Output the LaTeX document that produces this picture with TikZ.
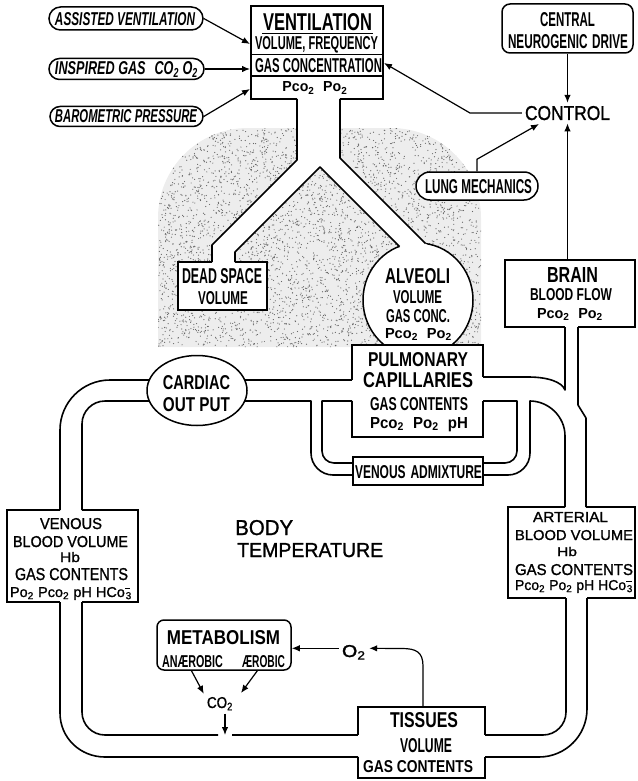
\documentclass[tikz,border=0pt]{standalone}
\usepackage{fontspec}
\usepackage{graphicx}
\setmainfont{Liberation Sans}
\newfontfamily\letfont{Liberation Sans}
\newfontfamily\medfont[FakeBold=1.2]{Liberation Sans}
\usetikzlibrary{arrows.meta,shapes.geometric,calc}
% lettering squeezed to a given width and cap height
\newcommand\fitb[3]{\resizebox{#1pt}{#2pt}{\letfont\bfseries #3}}
\newcommand\fiti[3]{\resizebox{#1pt}{#2pt}{\letfont\bfseries\itshape #3}}
\newcommand\fitr[3]{\resizebox{#1pt}{#2pt}{\medfont #3}}
\newcommand\ssub[1]{\textsubscript{#1}}
% subscript with a bar (charge sign) set above it
\newcommand\barsub[1]{\textsuperscript{\rlap{\rule[0.3em]{0.55em}{0.09em}}}\textsubscript{#1}}
\begin{document}
\begin{tikzpicture}[x=1pt,y=-1pt,
  box/.style={draw, fill=white, line width=1.5pt, inner sep=0pt, rectangle},
  rbox/.style={box, rounded corners=#1},
  wall/.style={line width=1.6pt, line join=round},
  arr/.style={line width=1.2pt, -{Latex[length=8pt,width=6.5pt]}},
  txt/.style={inner sep=0pt, anchor=base}]
\useasboundingbox (0,0) rectangle (637,781);

% stippled lung field
\begin{scope}
  \clip (158,347) -- (158,218) .. controls (158,168) and (198,128) .. (248,128)
        -- (391,128) .. controls (441,128) and (481,168) .. (481,218) -- (481,347) -- cycle;
  \fill[black!7] (150,120) rectangle (490,350);
  \pgfmathsetseed{11}
  \foreach \k in {1,...,4500}{
    \pgfmathsetmacro\sx{158+323*rnd}
    \pgfmathsetmacro\sy{128+219*rnd}
    \fill[black!60] (\sx,\sy) circle[radius=0.6];
  }
\end{scope}

% airway interior
\fill[white] (297,99) -- (297,160) -- (212,245) -- (212,264) -- (235,264) -- (235,252)
  -- (320,167) -- (406,253) -- (432,250) -- (340,158) -- (340,99) -- cycle;

% boxes
\node[box, minimum width=132, minimum height=93] (vent) at (317,52.5) {};
\node[rbox=11.5, minimum width=154, minimum height=23] (assist) at (126,18.5) {};
\node[rbox=10.5, minimum width=155, minimum height=21] (inspired) at (126.5,69) {};
\node[rbox=10, minimum width=153, minimum height=20] (baro) at (126.5,116.5) {};
\node[rbox=8, minimum width=131, minimum height=49] (central) at (567.5,28.5) {};
\node[rbox=14, minimum width=122, minimum height=28] (lung) at (477,186) {};
\node[box, minimum width=89, minimum height=48] (dead) at (222.5,286) {};
\node[box, ellipse, minimum width=110, minimum height=114] (alv) at (418,300) {};
\node[box, minimum width=131, minimum height=92] (pulm) at (417.5,391) {};
\node[box, ellipse, minimum width=100, minimum height=70] (cardiac) at (197,390.5) {};
\node[box, minimum width=130, minimum height=28] (admix) at (418,471) {};
\node[box, minimum width=130, minimum height=67] (brain) at (570,293.5) {};
\node[box, minimum width=127, minimum height=91] (arterial) at (571.5,552.5) {};
\node[box, minimum width=131, minimum height=92] (venous) at (72.5,556) {};
\node[rbox=7, minimum width=134, minimum height=50] (metab) at (224,645) {};
\node[box, minimum width=127, minimum height=71] (tiss) at (421.5,742.5) {};

% row rules in the ventilation box
\draw[line width=1.3pt] (251,54.5) -- (383,54.5);
\draw[line width=1.3pt] (251,76) -- (383,76);
\draw[line width=1.3pt] (262,33.5) -- (373,33.5);

% openings where the tubes enter the boxes
\fill[white] (297,97.5) rectangle (340,100.5);
\fill[white] (212,260.5) rectangle (235,263.5);
\fill[white] (385,232) -- (406,253) -- (432,250) -- (411,229) -- cycle;
\fill[white] (350.5,380) rectangle (353.5,401);
\fill[white] (481.5,377) rectangle (484.5,401);
\fill[white] (60,508.5) rectangle (82,511.5);
\fill[white] (60,600.5) rectangle (82,603.5);
\fill[white] (356.5,735) rectangle (359.5,757);
\fill[white] (483.5,735) rectangle (486.5,757);
\fill[white] (565,505.5) rectangle (586,508.5);
\fill[white] (566,596.5) rectangle (587,599.5);
\fill[white] (565,325.5) rectangle (578,328.5);

% airway walls
\draw[wall] (297,99) -- (297,160) -- (212,245) -- (212,262);
\draw[wall] (235,262) -- (235,252) -- (320,167) -- (399.5,246.5);
\draw[wall] (340,99) -- (340,158) -- (425.5,243.5);

% circulation: left side
\draw[wall] (352,380) -- (244.7,380);
\draw[wall] (149.3,380) -- (110,380) .. controls (82.4,380) and (60,402.4) .. (60,430) -- (60,510);
\draw[wall] (244.7,401) -- (311,401) -- (311,453) .. controls (311,465.1) and (320.9,475) .. (333,475) -- (353,475);
\draw[wall] (149.3,401) -- (105,401) .. controls (92.3,401) and (82,411.3) .. (82,424) -- (82,510);
\draw[wall] (352,401) -- (322,401) -- (322,451) .. controls (322,457.6) and (327.4,463) .. (334,463) -- (353,463);
% circulation: right side
\draw[wall] (483,401) -- (517,401) -- (517,451) .. controls (517,457.6) and (511.6,463) .. (505,463) -- (483,463);
\draw[wall] (483,475) -- (508,475) .. controls (520.1,475) and (530,465.1) .. (530,453) -- (530,401)
  .. controls (548,401) and (565,416) .. (565,436) -- (565,507);
\draw[wall] (483,377) -- (528,377) .. controls (548,377) and (562,382) .. (565,390) -- (565,327);
\draw[wall] (578,327) -- (578,405) -- (586,418) -- (586,507);
% circulation: bottom
\draw[wall] (60,602) -- (60,713) .. controls (60,737.8) and (80.2,757) .. (105,757) -- (358,757);
\draw[wall] (82,602) -- (82,712) .. controls (82,724.7) and (92.3,735) .. (105,735) -- (218,735);
\draw[wall] (232,735) -- (358,735);
\draw[wall] (485,735) -- (543,735) .. controls (555.7,735) and (566,724.7) .. (566,712) -- (566,598);
\draw[wall] (485,757) -- (539,757) .. controls (565.5,757) and (587,735.5) .. (587,709) -- (587,598);

% labels
\node[txt] (tAssist) at (125,26) {\fiti{140}{13}{ASSISTED VENTILATION}};
\node[txt] (tInsp) at (126.5,75) {\fiti{143}{13}{INSPIRED GAS\hspace{0.7em}CO\ssub{2} O\ssub{2}}};
\node[txt] (tBaro) at (126,123) {\fiti{142}{13}{BAROMETRIC PRESSURE}};

\node[txt] (tVent) at (317.5,31) {\fitb{109}{17}{VENTILATION}};
\node[txt] (tVolFreq) at (316.5,50) {\fitb{123}{13}{VOLUME, FREQUENCY}};
\node[txt] (tGasConc) at (318.5,73) {\fitb{127}{14}{GAS CONCENTRATION}};
\node[txt] (tVentP) at (315,92) {\fitb{65}{10}{Pco\ssub{2}\hspace{0.6em}Po\ssub{2}}};

\node[txt] (tCentral) at (567.5,27) {\fitb{55}{14}{CENTRAL}};
\node[txt] (tNeuro) at (568,49) {\fitb{120}{14}{NEUROGENIC\hspace{0.4em}DRIVE}};
\node[txt, inner sep=3pt] (control) at (567.5,120) {\fitr{85}{14}{CONTROL}};
\node[txt] (tLung) at (478.5,193) {\fitb{107}{14}{LUNG MECHANICS}};

\node[txt] (tDead) at (222,283) {\fitb{80}{15}{DEAD SPACE}};
\node[txt] (tDeadV) at (223,304) {\fitb{50}{13}{VOLUME}};

\node[txt] (tAlv) at (417.5,283) {\fitb{65}{15}{ALVEOLI}};
\node[txt] (tAlvV) at (417.5,303) {\fitb{49}{13}{VOLUME}};
\node[txt] (tAlvG) at (418,322) {\fitb{64}{13}{GAS CONC.}};
\node[txt] (tAlvP) at (418.5,338) {\fitb{67}{10}{Pco\ssub{2}\hspace{0.6em}Po\ssub{2}}};

\node[txt] (tPulm) at (418,366) {\fitb{100}{14}{PULMONARY}};
\node[txt] (tCap) at (418,387) {\fitb{110}{15}{CAPILLARIES}};
\node[txt] (tPulmG) at (419,410) {\fitb{98}{13}{GAS CONTENTS}};
\node[txt] (tPulmP) at (419,428) {\fitb{98}{11}{Pco\ssub{2}\hspace{0.6em}Po\ssub{2}\hspace{0.6em}pH}};
\node[txt] (tAdmix) at (418.5,478) {\fitb{127}{13}{VENOUS\hspace{0.4em}ADMIXTURE}};

\node[txt] (tCard) at (196.5,389) {\fitb{67}{14}{CARDIAC}};
\node[txt] (tOut) at (196.5,411) {\fitb{67}{14}{OUT PUT}};

\node[txt] (tBrain) at (572.5,282) {\fitb{51}{15}{BRAIN}};
\node[txt] (tFlow) at (571,300) {\fitb{82}{12}{BLOOD FLOW}};
\node[txt] (tBrainP) at (570,318) {\fitb{66}{10}{Pco\ssub{2}\hspace{0.6em}Po\ssub{2}}};

\node[txt] (tVen1) at (71,529) {\fitr{62}{11}{VENOUS}};
\node[txt] (tVen2) at (70.5,547) {\fitr{115}{11}{BLOOD VOLUME}};
\node[txt] (tVen3) at (70,562) {\fitr{20}{10}{Hb}};
\node[txt] (tVen4) at (71.5,580) {\fitr{113}{12}{GAS CONTENTS}};
\node[txt] (tVen5) at (71,597) {\fitr{122}{10}{Po\ssub{2} Pco\ssub{2} pH HCo\barsub{3}}};

\node[txt] (tArt1) at (570.5,522) {\fitr{75}{10}{ARTERIAL}};
\node[txt] (tArt2) at (574,540) {\fitr{118}{10}{BLOOD VOLUME}};
\node[txt] (tArt3) at (567,556) {\fitr{20}{9}{Hb}};
\node[txt] (tArt4) at (574,575) {\fitr{118}{11}{GAS CONTENTS}};
\node[txt] (tArt5) at (574,590) {\fitr{118}{10}{Pco\ssub{2} Po\ssub{2} pH HCo\barsub{3}}};

\node[txt, anchor=base west] (tBody) at (235,535) {\fitr{58}{15}{BODY}};
\node[txt, anchor=base west] (tTemp) at (237,557) {\fitr{146}{14}{TEMPERATURE}};

\node[txt] (tMetab) at (223.5,644) {\fitb{113}{14}{METABOLISM}};
\node[txt] (tAn) at (192.5,667) {\fitb{61}{12}{ANÆROBIC}};
\node[txt] (tAe) at (263.5,667) {\fitb{43}{12}{ÆROBIC}};
\node[txt, inner sep=3pt] (o2) at (354,657) {\fitr{24}{12}{O\ssub{2}}};
\node[txt, inner sep=3pt] (co2) at (220,708) {\fitr{26}{11}{CO\ssub{2}}};

\node[txt] (tTis) at (424,727) {\fitb{68}{15}{TISSUES}};
\node[txt] (tTisV) at (426,752) {\fitb{52}{14}{VOLUME}};
\node[txt] (tTisG) at (418,772) {\fitb{110}{12}{GAS CONTENTS}};

% connectors
\coordinate (ventA) at (250,44);
\coordinate (ventI) at (250,69);
\coordinate (ventB) at (250,89);
\coordinate (ventR) at (384,63);
\coordinate (ctrlL) at (539,124);
\draw[arr] (assist.east) -- (ventA);
\draw[arr] (inspired.east) -- (ventI);
\draw[arr] (baro.east) -- (ventB);
\draw[arr] (central.south) -- (control.north);
\draw[arr] (brain.north -| control.south) -- (control.south);
\draw[arr] (control.west) -- (470,113) -- (ventR);
\draw[arr] (lung.north) -- ++(0,-12) -- (ctrlL);

\path ([yshift=4pt]o2.west) coordinate (o2w);
\path ([yshift=4pt]o2.east) coordinate (o2e);
\draw[arr] (o2w) -- (o2w -| metab.east);
\coordinate (tisO) at ($(tiss.north)+(1.5,0)$);
\draw[arr] (tisO) -- (423,666) .. controls (423,652) and (416,648.5) .. (402,648.5) -- (o2e);

\coordinate (mA) at ($(metab.south west)!0.26!(metab.south east)$);
\coordinate (mB) at ($(metab.south west)!0.746!(metab.south east)$);
\coordinate (co2R) at (241,693);
\draw[arr] (mA) -- (co2.north west);
\draw[arr] (mB) -- (co2R);
\coordinate (co2in) at (225,735);
\draw[arr] (co2.south -| co2in) -- (co2in);
\end{tikzpicture}
\end{document}
